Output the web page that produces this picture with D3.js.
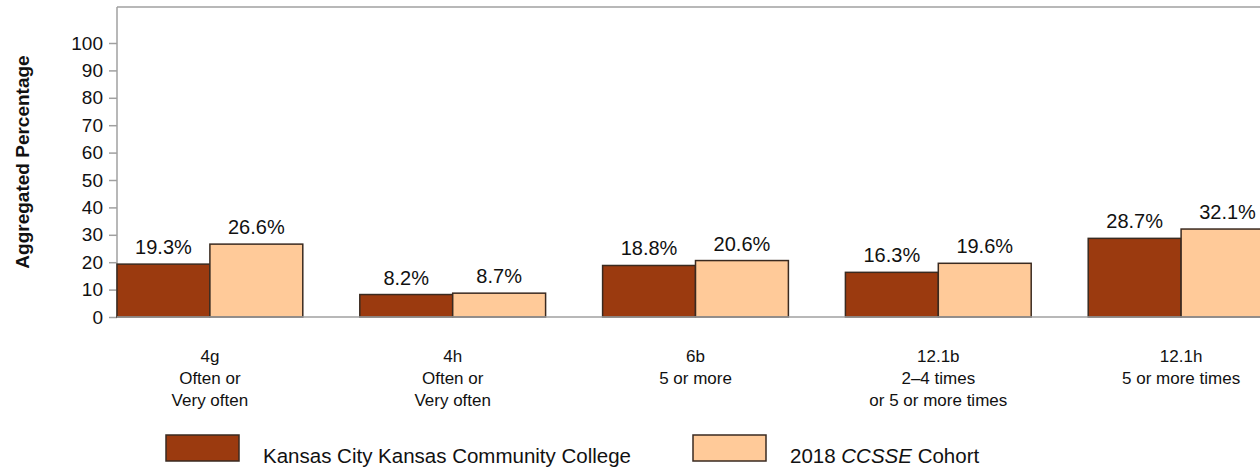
<!DOCTYPE html>
<html><head><meta charset="utf-8">
<script src="https://cdn.jsdelivr.net/npm/d3@7"></script>
<style>body{margin:0;background:#fff;}svg{display:block;font-family:"Liberation Sans",Arial,sans-serif;}</style>
</head><body>
<script>
const categories = ["4g","4h","6b","12.1b","12.1h"];
const categoryLines = [["4g","Often or","Very often"],["4h","Often or","Very often"],["6b","5 or more"],["12.1b","2–4 times","or 5 or more times"],["12.1h","5 or more times"]];
const seriesNames = ["Kansas City Kansas Community College","2018 CCSSE Cohort"];
const collegeValues = [19.3, 8.2, 18.8, 16.3, 28.7];
const cohortValues = [26.6, 8.7, 20.6, 19.6, 32.1];
const yTicks = [0,10,20,30,40,50,60,70,80,90,100];
const colors = ["#9B3A0F","#FFCA99"];

const W = 1260, H = 467;
const svg = d3.select("body").append("svg").attr("width", W).attr("height", H);

const plotLeft = 117, plotTop = 7, plotBottom = 317;
const y = d3.scaleLinear().domain([0, 100]).range([plotBottom, 43]);
const x0 = d3.scaleBand().domain(categories).range([plotLeft, plotLeft + 4*242.75 + 186]).paddingInner(57/242.75).paddingOuter(0);
const x1 = d3.scaleBand().domain([0,1]).range([0, x0.bandwidth()]);

// frame: top border
svg.append("line").attr("x1", plotLeft).attr("x2", W).attr("y1", plotTop).attr("y2", plotTop).attr("stroke", "#a0a0a0").attr("stroke-width", 1.5);

// y axis
const yAxis = svg.append("g").attr("transform", `translate(${plotLeft},0)`)
  .call(d3.axisLeft(y).tickValues(yTicks).tickSize(8).tickPadding(6));
yAxis.select(".domain").remove();
yAxis.selectAll(".tick line").attr("stroke", "#a0a0a0").attr("stroke-width", 1.5);
yAxis.selectAll(".tick text").attr("font-size", 19).attr("fill", "#111").attr("font-family", "Liberation Sans, Arial, sans-serif");
svg.append("line").attr("x1", plotLeft).attr("x2", plotLeft).attr("y1", plotTop).attr("y2", plotBottom).attr("stroke", "#a0a0a0").attr("stroke-width", 1.5);

// y label
svg.append("text").attr("transform", `translate(29,162) rotate(-90)`).attr("text-anchor", "middle")
  .attr("font-size", 19).attr("font-weight", "bold").attr("fill", "#111").text("Aggregated Percentage");

// bars
const data = categories.map((c, i) => ({c, vals: [collegeValues[i], cohortValues[i]]}));
const g = svg.selectAll(".grp").data(data).join("g").attr("transform", d => `translate(${x0(d.c)},0)`);
g.selectAll("rect").data(d => d.vals.map((v, k) => ({v, k}))).join("rect")
  .attr("x", d => x1(d.k)).attr("width", x1.bandwidth())
  .attr("y", d => y(d.v)).attr("height", d => plotBottom - y(d.v))
  .attr("fill", d => colors[d.k]).attr("stroke", "#3a2a20").attr("stroke-width", 1.5);
g.selectAll("text.val").data(d => d.vals.map((v, k) => ({v, k}))).join("text").attr("class", "val")
  .attr("x", d => x1(d.k) + x1.bandwidth()/2).attr("y", d => y(d.v) - 10)
  .attr("text-anchor", "middle").attr("font-size", 20).attr("fill", "#111")
  .text(d => d.v.toFixed(1) + "%");

// x baseline
svg.append("line").attr("x1", plotLeft).attr("x2", W).attr("y1", plotBottom).attr("y2", plotBottom).attr("stroke", "#a0a0a0").attr("stroke-width", 1.5);

// category labels
categories.forEach((c, i) => {
  const cx = x0(c) + x0.bandwidth()/2;
  const t = svg.append("text").attr("text-anchor", "middle").attr("font-size", 17).attr("fill", "#111");
  categoryLines[i].forEach((line, j) => {
    t.append("tspan").attr("x", cx).attr("y", 362 + j*22).text(line);
  });
});

// legend
const legendPos = [{x: 166, tx: 263}, {x: 693, tx: 790}];
legendPos.forEach((L, k) => {
  svg.append("rect").attr("x", L.x).attr("y", 435).attr("width", 73).attr("height", 26)
    .attr("fill", colors[k]).attr("stroke", "#3a2a20").attr("stroke-width", 1.5);
});
svg.append("text").attr("x", legendPos[0].tx).attr("y", 463).attr("font-size", 20.5).attr("fill", "#111").text(seriesNames[0]);
const t2 = svg.append("text").attr("x", legendPos[1].tx).attr("y", 463).attr("font-size", 20.5).attr("fill", "#111");
t2.append("tspan").text("2018 ");
t2.append("tspan").attr("font-style", "italic").text("CCSSE");
t2.append("tspan").text(" Cohort");
</script>
</body></html>
